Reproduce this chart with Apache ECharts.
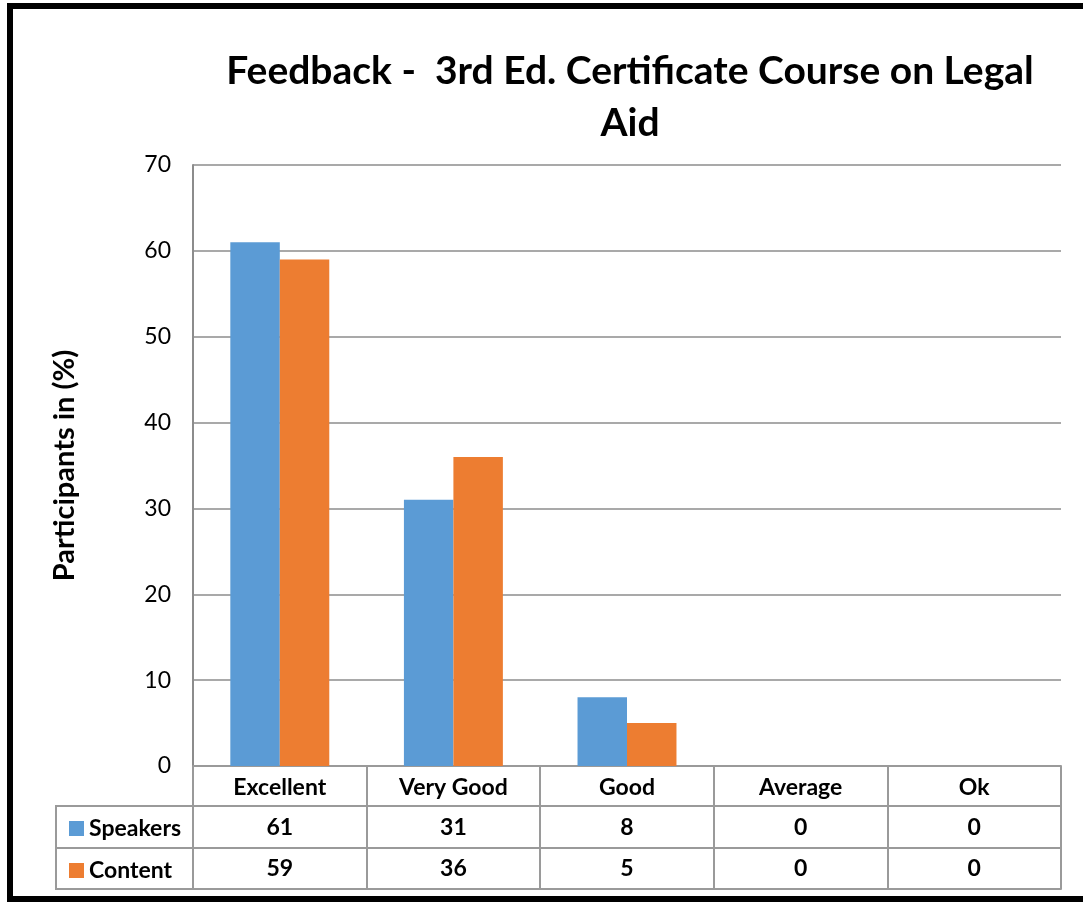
<!DOCTYPE html>
<html>
<head>
<meta charset="utf-8">
<script src="https://cdn.jsdelivr.net/npm/echarts@6/dist/echarts.min.js"></script>
<style>html,body{margin:0;padding:0;background:#fff;}#c{width:1083px;height:902px;}</style>
</head>
<body>
<div id="c"></div>
<script>
const categories = ['Excellent', 'Very Good', 'Good', 'Average', 'Ok'];
const speakers = [61, 31, 8, 0, 0];
const content = [59, 36, 5, 0, 0];
const seriesNames = ['Speakers', 'Content'];
const titleText = 'Feedback -  3rd Ed. Certificate Course on Legal\nAid';
const yAxisName = 'Participants in (%)';

const FONT = 'Lato, "Open Sans", sans-serif';
const GRID_COLOR = '#8c8c8c';
const TABLE_COLOR = '#9a9a9a';
const chart = echarts.init(document.getElementById('c'), null, {renderer: 'canvas'});

function tableAxis(offset, labels, tickLen, margin, showLabel) {
  return {
    type: 'category',
    data: categories,
    position: 'bottom',
    offset: offset,
    axisLine: {show: true, lineStyle: {color: TABLE_COLOR, width: 2}},
    axisTick: {show: tickLen > 0, interval: 0, length: tickLen, lineStyle: {color: TABLE_COLOR, width: 2}},
    axisLabel: {
      show: showLabel,
      interval: 0,
      margin: margin,
      fontFamily: FONT,
      fontSize: 23,
      fontWeight: 'bold',
      color: '#000',
      formatter: (v, i) => labels ? String(labels[i]) : v
    },
    splitLine: {show: false}
  };
}

chart.setOption({
  animation: false,
  backgroundColor: '#fff',
  title: {
    text: titleText,
    left: 625,
    top: 40,
    textAlign: 'center',
    textStyle: {fontFamily: FONT, fontSize: 39, fontWeight: 'bold', color: '#000', lineHeight: 52}
  },
  legend: {
    orient: 'vertical',
    left: 64,
    top: 812,
    itemGap: 19,
    itemWidth: 15,
    itemHeight: 15,
    icon: 'rect',
    data: seriesNames,
    textStyle: {fontFamily: FONT, fontSize: 23, fontWeight: 'bold', color: '#000', lineHeight: 23}
  },
  grid: {left: 193, right: 22, top: 165, bottom: 136, containLabel: false},
  xAxis: [
    tableAxis(0, null, 40, 10, true),
    tableAxis(40, speakers, 42, 10, true),
    tableAxis(82, content, 41, 9, true),
    tableAxis(123, null, 0, 0, false)
  ],
  yAxis: {
    type: 'value',
    min: 0,
    max: 70,
    interval: 10,
    name: yAxisName,
    nameLocation: 'middle',
    nameGap: 114,
    nameTextStyle: {fontFamily: FONT, fontSize: 29, fontWeight: 'bold', color: '#000'},
    axisLine: {show: true, lineStyle: {color: GRID_COLOR, width: 2}},
    axisTick: {show: false},
    axisLabel: {fontFamily: FONT, fontSize: 23, color: '#000', margin: 22},
    splitLine: {show: true, lineStyle: {color: GRID_COLOR, width: 1.5}}
  },
  series: [
    {name: seriesNames[0], type: 'bar', data: speakers, xAxisIndex: 0, barGap: '0%', barCategoryGap: '43%',
     itemStyle: {color: '#5B9BD5'}},
    {name: seriesNames[1], type: 'bar', data: content, xAxisIndex: 0, barGap: '0%', barCategoryGap: '43%',
     itemStyle: {color: '#ED7D31'}}
  ],
  graphic: [
    {type: 'rect', silent: true, z: 100, shape: {x: 10, y: 6, width: 1100, height: 893},
     style: {fill: 'none', stroke: '#000', lineWidth: 6}},
    {type: 'polyline', silent: true, z: 10, shape: {points: [[193, 806], [56, 806], [56, 889], [193, 889]]},
     style: {fill: 'none', stroke: TABLE_COLOR, lineWidth: 2}},
    {type: 'line', silent: true, z: 10, shape: {x1: 56, y1: 848, x2: 193, y2: 848},
     style: {stroke: TABLE_COLOR, lineWidth: 2}}
  ]
});
</script>
</body>
</html>
